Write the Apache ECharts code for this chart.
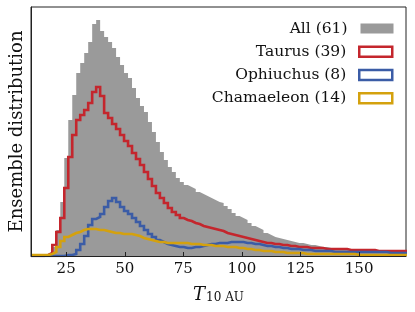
<!DOCTYPE html>
<html><head><meta charset="utf-8">
<script src="https://cdn.jsdelivr.net/npm/echarts@6/dist/echarts.min.js"></script>
<style>html,body{margin:0;padding:0;background:#fff}#c{width:415px;height:312px}</style>
</head><body><div id="c"></div>
<script>
// histogram bins: left edge of the first bin and bin width (T_10AU units)
const BIN_START = 10.6;
const BIN_WIDTH = 1.7;
const X_MIN = 10, X_MAX = 170;
const X_TICKS = [25, 50, 75, 100, 125, 150];
const NAMES = ['All (61)', 'Taurus (39)', 'Ophiuchus (8)', 'Chamaeleon (14)'];

// ensemble distribution per bin (arbitrary units)
const ALL = [0,0,0,1,3,9,26,54,98,136,161,183,193,203,214,232,236,225,219,214,
  208,199,191,183,178,168,158,150,144,134,124,114,104,96,89,84,78,74,71,69,
  67,64,62,60,58,56,54,53,50,47,43,40,38,36,33,30,28,26,23,21,
  19,18,17,16,15,14,13,13,12,11,11,10,9,9,8,8,8,8,7,7,
  7,7,7,7,6,6,6,6,6,6,6,6,6,6];
const TAURUS = [0,0,0,1,3,11,24,38,68,99,121,136,141,146,153,164,169,160,143,138,
  132,127,121,115,110,103,97,91,84,77,70,63,58,53,48,44,41,38,36,35,
  33,32,30,29,28,27,26,25,23,22,21,20,19,18,17,16,15,14,13,13,
  12,12,11,11,10,10,9,9,9,8,8,8,8,7,7,7,7,7,7,6,
  6,6,6,6,6,6,5,5,5,5,5,5,5,5];
const OPHIUCHUS = [0,0,0,0,0,0,0,0,1,1,2,6,12,20,31,37,39,42,49,55,
  58,54,49,45,42,38,34,30,26,22,19,16,14,12,11,10,9,9,8,8,
  9,9,10,11,12,12,13,13,13,14,14,14,14,13,13,12,12,11,10,10,
  9,9,8,8,7,7,7,6,6,6,5,5,5,5,5,4,4,4,4,4,
  4,4,4,4,4,4,4,4,4,3,3,3,3,3];
const CHAMAELEON = [1,1,1,1,2,4,9,15,19,21,23,24,26,27,27,27,26,26,25,24,
  23,23,22,22,22,21,20,18,17,16,15,14,14,13,13,13,13,13,13,12,
  12,12,11,11,11,10,10,10,9,9,9,8,8,7,7,6,6,5,5,5,
  4,4,4,3,3,3,3,3,2,2,2,2,2,2,2,2,2,2,2,2,
  2,1,1,1,1,1,1,1,1,1,1,1,1,1];

const GRAY = '#9a9a9a', RED = '#c4262d', BLUE = '#3b5ca6', YELLOW = '#d4a10e';
const COLORS = [GRAY, RED, BLUE, YELLOW];
const SERIF = 'DejaVu Serif';

function stepPoints(vals) {
  const pts = [[X_MIN, vals[0]]];
  vals.forEach((v, i) => pts.push([BIN_START + BIN_WIDTH * i, v]));
  pts.push([BIN_START + BIN_WIDTH * vals.length, vals[vals.length - 1]]);
  return pts;
}

const ROW_CENTER = [28.5, 51.7, 75, 98.3];
const chart = echarts.init(document.getElementById('c'), null, {renderer: 'canvas'});
const lineSeries = (k, vals) => ({
  name: NAMES[k], type: 'line', step: 'end', data: stepPoints(vals),
  symbol: 'none', silent: true, animation: false,
  lineStyle: {width: 2.6, color: COLORS[k], join: 'miter', cap: 'butt'},
  itemStyle: {color: COLORS[k]}
});

chart.setOption({
  animation: false,
  grid: {left: 30, right: 9, top: 7, bottom: 56, show: true, borderColor: '#222', borderWidth: 1},
  legend: NAMES.map((n, k) => ({
    data: [{name: n, icon: 'rect',
      itemStyle: k === 0 ? {color: GRAY, borderWidth: 0}
                         : {color: '#fff', borderColor: COLORS[k], borderWidth: 2.5}}],
    right: 21.5, top: ROW_CENTER[k] - 8, orient: 'vertical', align: 'right',
    itemWidth: 33, itemHeight: 10, padding: 0, selectedMode: false,
    textStyle: {fontFamily: SERIF, fontSize: 15.5, lineHeight: 16, color: '#111', padding: [0, 8, 0, 0]}
  })),
  xAxis: {
    type: 'value', min: X_MIN, max: X_MAX, z: 10,
    splitLine: {show: false},
    axisLine: {show: true, lineStyle: {color: '#222', width: 1}},
    axisTick: {show: true, inside: true, length: 4, customValues: X_TICKS, lineStyle: {color: '#222', width: 1}},
    axisLabel: {customValues: X_TICKS, fontFamily: SERIF, fontSize: 15, color: '#111', margin: 6},
    name: '{t|T}{s|10 AU}', nameLocation: 'middle', nameGap: 24,
    nameTextStyle: {
      rich: {
        t: {fontFamily: SERIF, fontStyle: 'italic', fontSize: 18, lineHeight: 18, verticalAlign: 'top', color: '#111'},
        s: {fontFamily: SERIF, fontSize: 12, lineHeight: 12, padding: [10, 0, 0, 1], verticalAlign: 'bottom', color: '#111'}
      }
    }
  },
  yAxis: {
    type: 'value', min: 0, max: 249, z: 10,
    splitLine: {show: false},
    axisLine: {show: true, lineStyle: {color: '#222', width: 1}},
    axisTick: {show: false}, axisLabel: {show: false},
    name: 'Ensemble distribution', nameLocation: 'middle', nameGap: 5,
    nameTextStyle: {fontFamily: SERIF, fontSize: 18, color: '#111'}
  },
  series: [
    {name: NAMES[0], type: 'line', step: 'end', data: stepPoints(ALL), symbol: 'none',
     silent: true, lineStyle: {width: 0, opacity: 0}, itemStyle: {color: GRAY},
     areaStyle: {color: GRAY, opacity: 1}},
    lineSeries(1, TAURUS),
    lineSeries(2, OPHIUCHUS),
    lineSeries(3, CHAMAELEON)
  ]
});
</script></body></html>
